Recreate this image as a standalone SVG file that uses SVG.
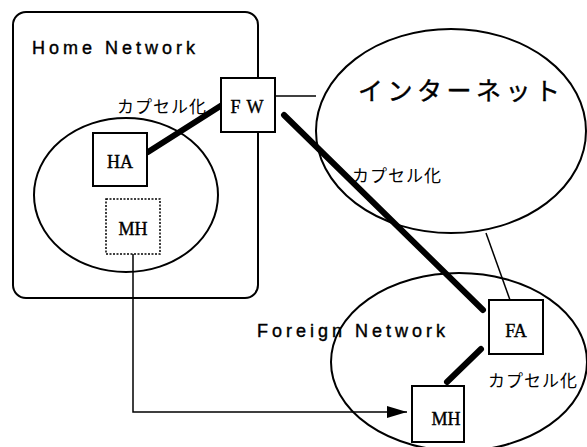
<svg xmlns="http://www.w3.org/2000/svg" width="587" height="447" viewBox="0 0 587 447">
<style>
.shape{fill:none;stroke:#000;stroke-width:2}
.box{fill:#fff;stroke:#000;stroke-width:2}
.dash{fill:#fff;stroke:#000;stroke-width:1.5;stroke-dasharray:2 1.5}
.thin{fill:none;stroke:#000;stroke-width:1.5}
.thick{fill:none;stroke:#000;stroke-width:6;stroke-linecap:round}
.lbl{font-family:"Liberation Sans",Arial,sans-serif;font-size:18px;letter-spacing:4px;fill:#000;stroke:#000;stroke-width:0.4}
.jp{font-family:"Noto Sans CJK JP","Noto Sans",sans-serif;font-size:17px;letter-spacing:1px;fill:#000}
.big{font-family:"Noto Sans CJK JP","Noto Sans",sans-serif;font-size:25px;letter-spacing:4.5px;fill:#000;stroke:#000;stroke-width:0.4}
.nm{font-family:"Liberation Serif","Times New Roman",serif;font-size:18px;fill:#000;stroke:#000;stroke-width:0.4;text-anchor:middle}
</style>
<defs>
<marker id="arr" viewBox="0 0 20 12" refX="20" refY="6" markerWidth="20" markerHeight="12" markerUnits="userSpaceOnUse" orient="auto">
<path d="M0,0 L20,6 L0,12 z" fill="#000"/>
</marker>
</defs>
<rect width="587" height="447" fill="#fff"/>
<g id="home-network">
<rect class="shape" x="13" y="12" width="245" height="286" rx="13"/>
<text class="lbl" x="32" y="54">Home Network</text>
</g>
<g id="home-lan">
<ellipse class="shape" cx="126" cy="195" rx="92" ry="77"/>
</g>
<g id="internet">
<ellipse class="shape" cx="451" cy="131" rx="135" ry="102"/>
<text class="big" x="358" y="100">インターネット</text>
</g>
<g id="foreign-network">
<ellipse class="shape" cx="459" cy="362" rx="128" ry="89"/>
<text class="lbl" x="257" y="337">Foreign Network</text>
</g>
<g id="connectors">
<line class="thin" x1="275" y1="96" x2="316" y2="96"/>
<line class="thin" x1="486" y1="233" x2="510" y2="300"/>
<line class="thick" x1="148" y1="152" x2="222" y2="105"/>
<line class="thick" x1="284" y1="115" x2="483" y2="310"/>
<line class="thick" x1="481" y1="349" x2="447" y2="382"/>
<polyline class="thin" points="133,254 133,412 407,412" marker-end="url(#arr)"/>
<text class="jp" x="117" y="113">カプセル化</text>
<text class="jp" x="352" y="182">カプセル化</text>
<text class="jp" x="488" y="387">カプセル化</text>
</g>
<g id="ha">
<rect class="box" x="93" y="133" width="54" height="53"/>
<text class="nm" x="120" y="168">HA</text>
</g>
<g id="mh-home">
<rect class="dash" x="106" y="199" width="54" height="55"/>
<text class="nm" x="133" y="235">MH</text>
</g>
<g id="fw">
<rect class="box" x="221" y="78" width="54" height="54"/>
<text class="nm" x="250" y="113" letter-spacing="6">FW</text>
</g>
<g id="fa">
<rect class="box" x="489" y="300" width="54" height="54"/>
<text class="nm" x="516" y="337">FA</text>
</g>
<g id="mh-foreign">
<rect class="box" x="412" y="386" width="52" height="56"/>
<text class="nm" x="446" y="425">MH</text>
</g>
</svg>
